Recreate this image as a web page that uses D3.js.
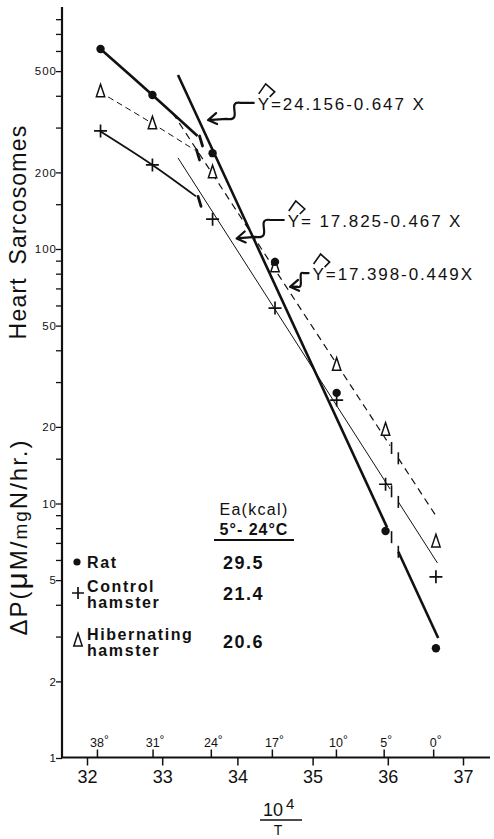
<!DOCTYPE html>
<html><head><meta charset="utf-8">
<script src="https://cdn.jsdelivr.net/npm/d3@7"></script>
<style>
body{margin:0;background:#fff}
svg{display:block}
text{font-family:"Liberation Sans",Arial,sans-serif;fill:#111}
</style>
</head><body>
<svg id="chart" width="494" height="839"></svg>
<script>
// ---------------- data ----------------
const xPoints = [32.18, 32.87, 33.67, 34.5, 35.32, 35.97, 36.64];   // 10^4/T of measurements
const ratValues = [611, 403, 238, 89, 27.2, 7.8, 2.7];
const controlValues = [291, 214, 131, 58.6, 25.5, 11.9, 5.15];
const hibValues = [414, 310, 199, 85, 34.9, 19.4, 7.06];

// free-hand curves at warm temperatures
const ratCurveX = [32.18, 32.87, 33.47];      const ratCurveV = [611, 403, 278];
const controlCurveX = [32.17, 32.87, 33.45];  const controlCurveV = [291, 214, 161];
const hibCurveX = [32.17, 32.88, 33.43];      const hibCurveV = [414, 310, 245];

// regression lines (end points)
const ratLineX = [33.21, 36.67];      const ratLineV = [483, 2.96];
const controlLineX = [33.21, 36.66];  const controlLineV = [228, 5.84];
const hibLineX = [33.14, 36.65];      const hibLineV = [342, 8.85];
const breakX = [36.03, 36.14];

const xTicks = [32, 33, 34, 35, 36, 37];
const degreeTicks = [38, 31, 24, 17, 10, 5, 0];
const yTicks = [1,2,3,4,5,6,7,8,9,10,15,20,30,40,50,60,70,80,90,100,150,200,300,400,500,600,700,800];
const yLabels = [1,2,5,10,20,50,100,200,500];

const equations = ["=24.156-0.647 X", "= 17.825-0.467 X", "=17.398-0.449X"];
const legendNames = [["Rat"], ["Control", "hamster"], ["Hibernating", "hamster"]];
const eaValues = ["29.5", "21.4", "20.6"];
const eaHeader = ["Ea(kcal)", "5°- 24°C"];

// ---------------- scales ----------------
const svg = d3.select("#chart");
const x = d3.scaleLinear().domain([32, 37]).range([87, 463]);
const y = d3.scaleLog().domain([1, 1000]).range([758, 758 - 3 * 254.5]);
const ink = "#111";

// axes
const axX0 = 62, axY0 = 757.5;
svg.append("line").attr("x1", axX0).attr("x2", axX0).attr("y1", 7).attr("y2", axY0)
  .attr("stroke", ink).attr("stroke-width", 2.2);
svg.append("line").attr("x1", axX0 - 1).attr("x2", 490).attr("y1", axY0).attr("y2", axY0)
  .attr("stroke", ink).attr("stroke-width", 2.2);

const gy = svg.append("g").attr("transform", `translate(${axX0},0)`)
  .call(d3.axisLeft(y).tickValues(yTicks).tickSize(6)
    .tickFormat(d => yLabels.includes(d) ? d : ""));
gy.select(".domain").remove();
gy.selectAll(".tick line").attr("stroke", ink).attr("stroke-width", 1.3);
gy.selectAll(".tick text").attr("font-size", 11.5).attr("x", -5).attr("letter-spacing", 1)
  .attr("font-family", "Liberation Sans, Arial, sans-serif").attr("fill", ink);

const gx = svg.append("g").attr("transform", `translate(0,${axY0})`)
  .call(d3.axisBottom(x).tickValues(xTicks).tickSize(8).tickFormat(d => d));
gx.select(".domain").remove();
gx.selectAll(".tick line").attr("stroke", ink).attr("stroke-width", 1.5);
gx.selectAll(".tick text").attr("font-size", 18).attr("dy", "0.95em").attr("y", 8)
  .attr("font-family", "Liberation Sans, Arial, sans-serif").attr("fill", ink);

// degree ticks on top of x axis
const degG = svg.append("g");
degreeTicks.forEach(t => {
  const xv = 1e4 / (t + 273.15);
  degG.append("line").attr("x1", x(xv)).attr("x2", x(xv)).attr("y1", axY0).attr("y2", axY0 - 8)
    .attr("stroke", ink).attr("stroke-width", 1.5);
  const tx = degG.append("text").attr("x", x(xv) + 2).attr("y", axY0 - 11).attr("text-anchor", "middle")
    .attr("font-size", 12.5);
  tx.append("tspan").text(t);
  tx.append("tspan").text("°").attr("font-size", 12).attr("dy", -3);
});

// axis titles
svg.append("text").attr("transform", "translate(26,232) rotate(-90)").attr("text-anchor", "middle")
  .attr("font-size", 23).attr("letter-spacing", 1.2).text("Heart\u2002Sarcosomes");
const yl = svg.append("text").attr("transform", "translate(27,537) rotate(-90)").attr("text-anchor", "middle")
  .attr("font-size", 24).attr("letter-spacing", 2);
yl.append("tspan").text("ΔP(");
yl.append("tspan").text("μ").attr("font-size", 30);
yl.append("tspan").text("M/");
yl.append("tspan").text("mg").attr("font-size", 19);
yl.append("tspan").text("N/hr.)");

// x title 10^4 / T
const xt = svg.append("text").attr("x", 263).attr("y", 816).attr("font-size", 18);
xt.append("tspan").text("10");
xt.append("tspan").text("4").attr("font-size", 15).attr("dx", 3).attr("dy", -7);
svg.append("line").attr("x1", 260).attr("x2", 302).attr("y1", 820).attr("y2", 820).attr("stroke", ink).attr("stroke-width", 1.4);
svg.append("text").attr("x", 278).attr("y", 835).attr("text-anchor", "middle").attr("font-size", 14).text("T");

// ---------------- curves & lines ----------------
const curveGen = d3.line().x(d => x(d[0])).y(d => y(d[1])).curve(d3.curveCatmullRom.alpha(0.5));
const zip = (a, b) => a.map((v, i) => [v, b[i]]);
function lineAt(xs, vs, xv) {
  const t = (xv - xs[0]) / (xs[1] - xs[0]);
  return Math.exp(Math.log(vs[0]) + t * (Math.log(vs[1]) - Math.log(vs[0])));
}
function drawBrokenLine(xs, vs, gapStart, style) {
  const seg1 = [[xs[0], vs[0]], [gapStart, lineAt(xs, vs, gapStart)]];
  const seg2 = [[breakX[1], lineAt(xs, vs, breakX[1])], [xs[1], vs[1]]];
  [seg1, seg2].forEach(s => {
    const p = svg.append("path").attr("d", curveGen(s)).attr("fill", "none").attr("stroke", ink)
      .attr("stroke-width", style.w);
    if (style.dash) p.attr("stroke-dasharray", style.dash);
  });
  [breakX[0] + 0.02, breakX[1]].forEach(bx => {
    const py = y(lineAt(xs, vs, bx));
    svg.append("line").attr("x1", x(bx)).attr("x2", x(bx)).attr("y1", py - 6).attr("y2", py + 6)
      .attr("stroke", ink).attr("stroke-width", 1.6);
  });
}
function drawCurve(xs, vs, style) {
  const p = svg.append("path").attr("d", curveGen(zip(xs, vs))).attr("fill", "none")
    .attr("stroke", ink).attr("stroke-width", style.w);
  if (style.dash) p.attr("stroke-dasharray", style.dash);
  // end bracket mark
  const ex = x(xs[xs.length - 1]), ey = y(vs[vs.length - 1]);
  svg.append("line").attr("x1", ex + 2).attr("y1", ey).attr("x2", ex + 5).attr("y2", ey + 10)
    .attr("stroke", ink).attr("stroke-width", 2.8).attr("stroke-linecap", "round");
}

drawCurve(ratCurveX, ratCurveV, {w: 2.6});
drawCurve(controlCurveX, controlCurveV, {w: 1.8});
drawCurve(hibCurveX, hibCurveV, {w: 1, dash: "6,4"});

drawBrokenLine(ratLineX, ratLineV, 35.99, {w: 2.6});
drawBrokenLine(controlLineX, controlLineV, breakX[0], {w: 1});
drawBrokenLine(hibLineX, hibLineV, breakX[0], {w: 1.2, dash: "7,5"});

// ---------------- markers ----------------
function dot(g, cx, cy, r) { g.append("circle").attr("cx", cx).attr("cy", cy).attr("r", r).attr("fill", ink); }
function plus(g, cx, cy, s) {
  g.append("path").attr("d", `M${cx - s},${cy}H${cx + s}M${cx},${cy - s}V${cy + s}`)
    .attr("stroke", ink).attr("stroke-width", 1.7).attr("fill", "none");
}
function tri(g, cx, cy, s) {
  g.append("path").attr("d", `M${cx},${cy - s * 1.1}L${cx + s * 0.6},${cy + s * 0.7}L${cx - s * 0.6},${cy + s * 0.7}Z`)
    .attr("stroke", ink).attr("stroke-width", 1.5).attr("fill", "#fff");
}
const mk = svg.append("g");
xPoints.forEach((xv, i) => {
  tri(mk, x(xv), y(hibValues[i]), 7);
  plus(mk, x(xv), y(controlValues[i]), 6.5);
  dot(mk, x(xv), y(ratValues[i]), 4.2);
});

// ---------------- equations with squiggle arrows ----------------
const eqAnchors = [
  {tx: 34.27, tv: 352, ax: 33.61, av: 321},
  {tx: 34.67, tv: 122, ax: 33.99, av: 110},
  {tx: 35.00, tv: 75.5, ax: 34.70, av: 71}
];
equations.forEach((eq, i) => {
  const a = eqAnchors[i];
  const X0 = x(a.tx), Y0 = y(a.tv);
  const t = svg.append("text").attr("x", X0).attr("y", Y0).attr("font-size", 17).attr("letter-spacing", 1.9);
  t.append("tspan").text("Y");
  t.append("tspan").text(eq);
  // hat
  svg.append("path").attr("d", `M${X0 + 1},${Y0 - 16}L${X0 + 8},${Y0 - 26}L${X0 + 17},${Y0 - 18}L${X0 + 12},${Y0 - 13}`)
    .attr("fill", "none").attr("stroke", ink).attr("stroke-width", 1.6);
  // squiggle arrow
  const Sx = X0 - 4, Sy = Y0 - 7, Tx = x(a.ax), Ty = y(a.av);
  const w = Sx - Tx, h = Ty - Sy;
  const P1x = Sx - 0.28 * w, P1y = Sy;
  const P2x = Sx - 0.6 * w, P2y = Sy + 0.7 * h + 4;
  const d = `M${Sx},${Sy}L${P1x},${P1y}` +
    `C${P1x - 0.35 * w},${P1y - 3} ${P2x + 0.4 * w},${P2y + 3} ${P2x},${P2y}` +
    `L${Tx},${Ty}` +
    `M${Tx + 8},${Ty - 7}L${Tx},${Ty}L${Tx + 9},${Ty + 4}`;
  svg.append("path").attr("d", d).attr("fill", "none").attr("stroke", ink).attr("stroke-width", 2.2)
    .attr("stroke-linejoin", "round").attr("stroke-linecap", "round");
});

// ---------------- legend / Ea table ----------------
const hdr = svg.append("g");
hdr.append("text").attr("x", 254).attr("y", 515).attr("text-anchor", "middle").attr("font-size", 16)
  .attr("letter-spacing", 1.3).text(eaHeader[0]);
hdr.append("text").attr("x", 254).attr("y", 535).attr("text-anchor", "middle").attr("font-size", 16)
  .attr("font-weight", "bold").attr("letter-spacing", 1).text(eaHeader[1]);
hdr.append("line").attr("x1", 214).attr("x2", 294).attr("y1", 540).attr("y2", 540).attr("stroke", ink).attr("stroke-width", 1.8);

const rowY = [562, 593, 641];
const lg = svg.append("g");
legendNames.forEach((names, i) => {
  if (i === 0) dot(lg, 77, rowY[i], 3.6);
  if (i === 1) plus(lg, 78, rowY[i], 6);
  if (i === 2) tri(lg, 78, rowY[i], 7);
  names.forEach((n, j) => {
    lg.append("text").attr("x", 87).attr("y", rowY[i] + (names.length > 1 ? -1 + j * 16 : 6))
      .attr("font-size", 16).attr("font-weight", "bold").attr("letter-spacing", 1.6).text(n);
  });
  lg.append("text").attr("x", 223).attr("y", rowY[i] + 7).attr("font-size", 18).attr("font-weight", "bold")
    .attr("letter-spacing", 1.5).text(eaValues[i]);
});
</script>
</body></html>
